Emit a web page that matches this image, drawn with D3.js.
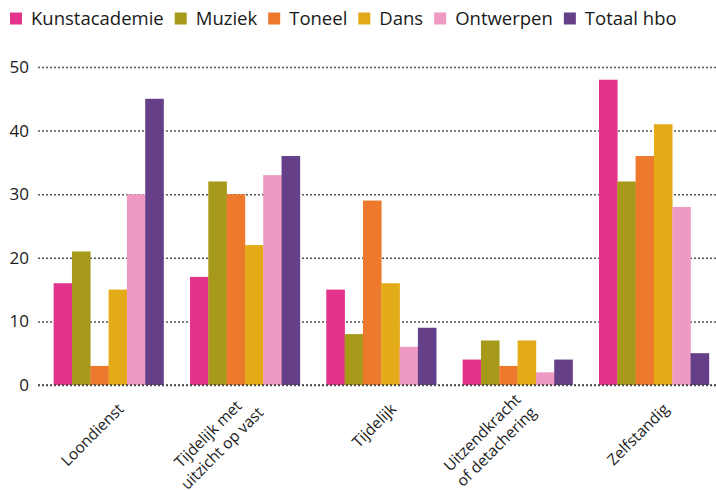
<!DOCTYPE html>
<html>
<head>
<meta charset="utf-8">
<script src="https://cdn.jsdelivr.net/npm/d3@7"></script>
<style>
  body { margin: 0; background: #fff; }
  text { font-family: "Open Sans", sans-serif; fill: #1a1a1a; }
</style>
</head>
<body>
<div id="chart"></div>
<script>
const categories = [["Loondienst"], ["Tijdelijk met", "uitzicht op vast"], ["Tijdelijk"], ["Uitzendkracht", "of detachering"], ["Zelfstandig"]];
const seriesNames = ["Kunstacademie", "Muziek", "Toneel", "Dans", "Ontwerpen", "Totaal hbo"];
const seriesColors = ["#e4338a", "#a79a1b", "#ec792c", "#e3ab17", "#ee9ac3", "#654089"];
const kunstacademie = [16, 17, 15, 4, 48];
const muziek = [21, 32, 8, 7, 32];
const toneel = [3, 30, 29, 3, 36];
const dans = [15, 22, 16, 7, 41];
const ontwerpen = [30, 33, 6, 2, 28];
const totaalHbo = [45, 36, 9, 4, 5];
const yTicks = [0, 10, 20, 30, 40, 50];

const w = 716, h = 490;
const values = [kunstacademie, muziek, toneel, dans, ontwerpen, totaalHbo];

const svg = d3.select("#chart").append("svg")
    .attr("width", w)
    .attr("height", h);

const xScale = d3.scaleBand()
    .domain(d3.range(categories.length))
    .range([40, 722.5])
    .paddingInner(0.194)
    .paddingOuter(0.1);

const xSub = d3.scaleBand()
    .domain(d3.range(seriesNames.length))
    .range([0, xScale.bandwidth()]);

const yScale = d3.scaleLinear()
    .domain([0, 50])
    .range([385, 67]);

// gridlines (behind bars)
const yAxis = d3.axisLeft(yScale)
    .tickValues(yTicks)
    .tickSize(-(w - 38))
    .tickPadding(9)
    .tickFormat(d3.format("d"));

const gy = svg.append("g")
    .attr("transform", "translate(38,0)")
    .call(yAxis);
gy.select(".domain").remove();
gy.selectAll(".tick line")
    .attr("stroke", "#555")
    .attr("stroke-width", 1.5)
    .attr("stroke-dasharray", "2,2");
gy.selectAll(".tick text")
    .attr("x", -9)
    .style("font-size", "17px")
    .style("font-family", "Open Sans, sans-serif")
    .attr("fill", "#1a1a1a");

// bars
const groups = svg.append("g").selectAll("g")
    .data(categories)
    .join("g")
    .attr("transform", (d, i) => "translate(" + xScale(i) + ",0)");

groups.selectAll("rect")
    .data((d, i) => values.map((s, j) => ({ series: j, value: s[i] })))
    .join("rect")
    .attr("x", d => xSub(d.series))
    .attr("width", xSub.bandwidth() + 0.3)
    .attr("y", d => yScale(d.value))
    .attr("height", d => yScale(0) - yScale(d.value))
    .attr("fill", d => seriesColors[d.series]);

// zero line on top
svg.append("line")
    .attr("x1", 38).attr("x2", w)
    .attr("y1", yScale(0)).attr("y2", yScale(0))
    .attr("stroke", "#444")
    .attr("stroke-width", 1.5)
    .attr("stroke-dasharray", "2,2");

// category labels, rotated
const lineHeight = 20;
categories.forEach((lines, i) => {
    const cx = xScale(i) + xScale.bandwidth() / 2;
    const n = lines.length;
    const g = svg.append("g")
        .attr("transform", "translate(" + (cx + 16) + "," + 410 + ") rotate(-45)");
    const texts = lines.map((t, k) => g.append("text")
        .attr("text-anchor", "middle")
        .attr("y", (k - (n - 1)) * lineHeight + (n - 1) * 5)
        .style("font-size", "15.5px")
        .text(t));
    const maxLen = d3.max(texts, t => t.node().getComputedTextLength());
    texts.forEach(t => t.attr("x", -maxLen / 2));
});

// legend
const legend = svg.append("g");
let lx = 10;
seriesNames.forEach((name, i) => {
    legend.append("rect")
        .attr("x", lx).attr("y", 12.5)
        .attr("width", 12).attr("height", 12)
        .attr("fill", seriesColors[i]);
    const t = legend.append("text")
        .attr("x", lx + 21)
        .attr("y", 24.5)
        .style("font-size", "18.5px")
        .text(name);
    lx += 21 + t.node().getComputedTextLength() + 11;
});
</script>
</body>
</html>
